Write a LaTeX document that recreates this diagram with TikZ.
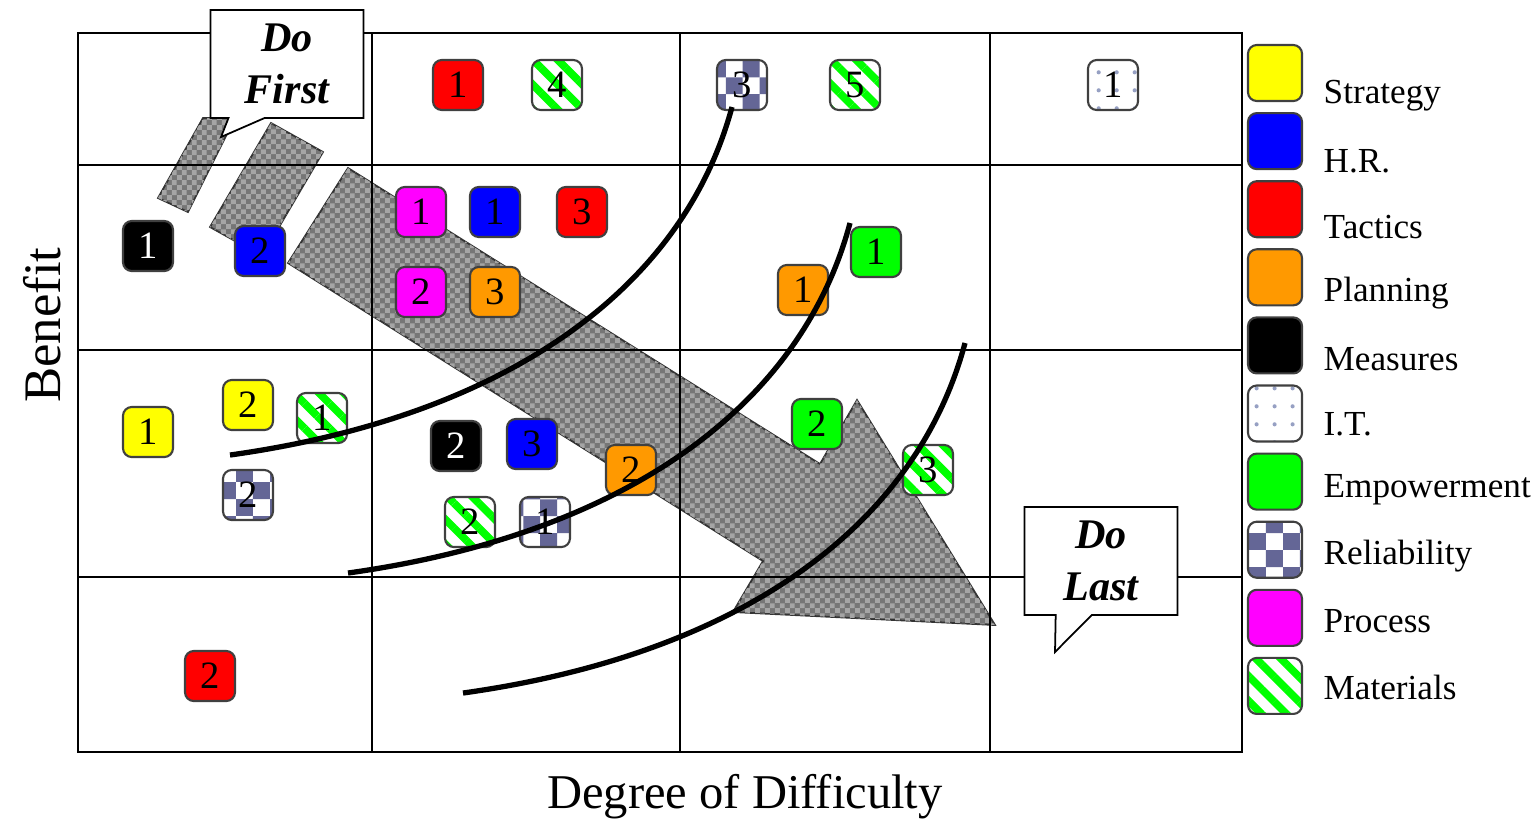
\documentclass[tikz,border=0pt]{standalone}
\usepackage{fontspec}
\setmainfont{Liberation Serif}
\usetikzlibrary{patterns,patterns.meta,shapes.callouts}
\definecolor{stratyellow}{RGB}{255,255,0}
\definecolor{hrblue}{RGB}{0,0,255}
\definecolor{tactred}{RGB}{255,0,0}
\definecolor{planorange}{RGB}{255,153,0}
\definecolor{empwgreen}{RGB}{0,255,0}
\definecolor{procmagenta}{RGB}{255,0,255}
\definecolor{relslate}{RGB}{100,102,150}
\definecolor{itblue}{RGB}{150,160,195}
\definecolor{bandgray}{RGB}{118,118,118}
\definecolor{bandcheck}{RGB}{165,165,165}
\pgfdeclarepatternformonly{relcheck}{\pgfpointorigin}{\pgfqpoint{9.6pt}{9.6pt}}{\pgfqpoint{9.6pt}{9.6pt}}{%
  \pgfpathrectangle{\pgfpointorigin}{\pgfqpoint{4.8pt}{4.8pt}}%
  \pgfpathrectangle{\pgfqpoint{4.8pt}{4.8pt}}{\pgfqpoint{4.8pt}{4.8pt}}%
  \pgfusepath{fill}}
\pgfdeclarepatternformonly{bandchecker}{\pgfpointorigin}{\pgfqpoint{2.8pt}{2.8pt}}{\pgfqpoint{2.8pt}{2.8pt}}{%
  \pgfpathrectangle{\pgfpointorigin}{\pgfqpoint{1.4pt}{1.4pt}}%
  \pgfpathrectangle{\pgfqpoint{1.4pt}{1.4pt}}{\pgfqpoint{1.4pt}{1.4pt}}%
  \pgfusepath{fill}}
\pgfdeclarepatternformonly{itdots}{\pgfpointorigin}{\pgfqpoint{5pt}{5pt}}{\pgfqpoint{5pt}{5pt}}{%
  \pgfpathcircle{\pgfqpoint{2.5pt}{2.5pt}}{0.6pt}\pgfusepath{fill}}
\tikzset{
  catbox/.style={draw=black!75, line width=0.6pt, rounded corners=2.5pt, minimum size=0.5cm, inner sep=0pt, font=\fontsize{11}{11}\selectfont},
  strat/.style={catbox, fill=stratyellow},
  hr/.style={catbox, fill=hrblue},
  tact/.style={catbox, fill=tactred},
  plan/.style={catbox, fill=planorange},
  meas/.style={catbox, fill=black, text=white},
  itbox/.style={catbox, preaction={fill=white}, pattern=itdots, pattern color=itblue},
  empw/.style={catbox, fill=empwgreen},
  relb/.style={catbox, preaction={fill=white}, pattern=relcheck, pattern color=relslate},
  proc/.style={catbox, fill=procmagenta},
  matl/.style={catbox, preaction={fill=white}, pattern={Lines[angle=-45,distance=5pt,line width=2.2pt]}, pattern color=empwgreen},
  gridln/.style={line width=0.6pt},
  curveln/.style={line width=1.5pt},
  arrowband/.style={draw=black!80, line width=0.5pt, fill=bandgray, postaction={pattern=bandchecker, pattern color=bandcheck}},
  calloutbox/.style={rectangle callout, draw, fill=white, line width=0.5pt, minimum width=1.53cm, minimum height=1.08cm, callout pointer width=0.36cm, align=center, font=\fontsize{12}{14.8}\selectfont\bfseries\itshape},
  legtext/.style={anchor=west, inner sep=0pt, font=\fontsize{10}{12}\selectfont},
}
\begin{document}
\begin{tikzpicture}[x=0.01cm, y=-0.01cm]
  \useasboundingbox (0,0) rectangle (1534,820);

  \path[arrowband] (348,168) -- (820,464) -- (857,400) -- (995,625) -- (733,612) -- (763,561) -- (288,263) -- cycle;
  \path[arrowband] (271,123) -- (323,152) -- (262,256) -- (210,227) -- cycle;
  \path[arrowband] (203,118) -- (235,118) -- (188,212) -- (158,198) -- cycle;

  \draw[gridln] (78,33) rectangle (1242,752);
  \foreach \gx in {372,680,990} {
    \draw[gridln] (\gx,33) -- (\gx,752);
  }
  \foreach \gy in {165,350,577} {
    \draw[gridln] (78,\gy) -- (1242,\gy);
  }

  \node[tact] (t1) at (458,85) {1};
  \node[matl] (m4) at (557,85) {4};
  \node[relb] (r3) at (742,85) {3};
  \node[matl] (m5) at (855,85) {5};
  \node[itbox] (i1) at (1113,85) {1};

  \node[meas] (ms1) at (148,246) {1};
  \node[hr] (h2) at (260,251) {2};
  \node[proc] (p1) at (421,212) {1};
  \node[hr] (h1) at (495,212) {1};
  \node[tact] (t3) at (582,212) {3};
  \node[proc] (p2) at (421,292) {2};
  \node[plan] (pl3) at (495,292) {3};
  \node[plan] (pl1) at (803,290) {1};
  \node[empw] (e1) at (876,252) {1};

  \node[strat] (s1) at (148,432) {1};
  \node[strat] (s2) at (248,405) {2};
  \node[matl] (m1) at (322,418) {1};
  \node[relb] (r2) at (248,495) {2};
  \node[meas] (ms2) at (456,446) {2};
  \node[hr] (h3) at (532,444) {3};
  \node[plan] (pl2) at (631,470) {2};
  \node[matl] (m2) at (470,522) {2};
  \node[relb] (r1) at (545,522) {1};
  \node[empw] (e2) at (817,424) {2};
  \node[matl] (m3) at (928,470) {3};

  \node[tact] (t2) at (210,676) {2};

  \coordinate (ca0) at (230,455);
  \coordinate (ca1) at (732,107);
  \coordinate (cb0) at (348,573);
  \coordinate (cb1) at (850,223);
  \coordinate (cc0) at (463,693);
  \coordinate (cc1) at (965,343);
  \draw[curveln] (ca0) .. controls (502,417) and (682,292) .. (ca1);
  \draw[curveln] (cb0) .. controls (620,535) and (800,410) .. (cb1);
  \draw[curveln] (cc0) .. controls (735,655) and (915,530) .. (cc1);

  \node[calloutbox, callout absolute pointer={(221,137)}] (dofirst) at (287,64) {Do\\First};
  \node[calloutbox, callout absolute pointer={(1055,652)}] (dolast) at (1101,561) {Do\\Last};

  \foreach \sty/\lab [count=\i from 0] in {strat/Strategy, hr/H.R., tact/Tactics, plan/Planning, meas/Measures, itbox/I.T., empw/Empowerment, relb/Reliability, proc/Process, matl/Materials} {
    \node[\sty, minimum width=0.54cm, minimum height=0.56cm] (leg\i) at (1275,73+68.1*\i) {};
    \node[legtext] (lab\i) at (1323,96+65.7*\i) {\lab};
  }

  \node[rotate=90, font=\fontsize{15}{15}\selectfont] (benefit) at (42,325) {Benefit};
  \node[font=\fontsize{13.8}{14}\selectfont] (difficulty) at (745,797) {Degree of Difficulty};
\end{tikzpicture}
\end{document}
